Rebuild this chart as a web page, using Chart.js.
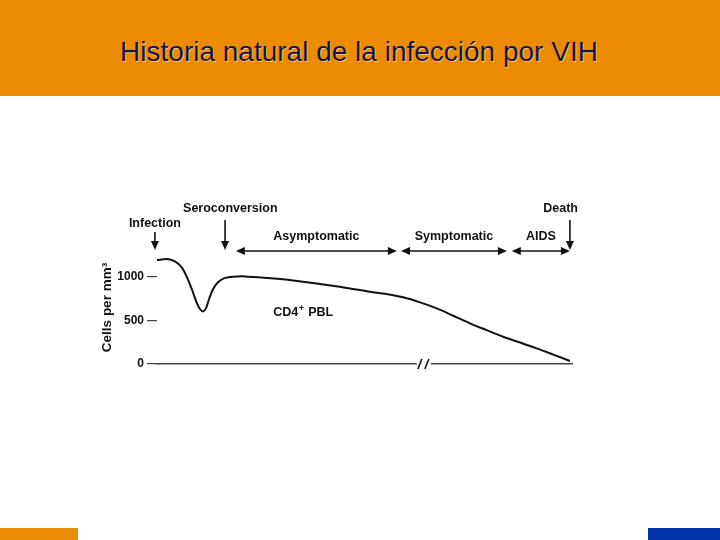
<!DOCTYPE html>
<html>
<head>
<meta charset="utf-8">
<script src="https://cdn.jsdelivr.net/npm/chart.js@4.4.0/dist/chart.umd.min.js"></script>
<style>
  html, body { margin: 0; padding: 0; background: #fff; }
  body { width: 720px; height: 540px; position: relative; overflow: hidden; font-family: 'Liberation Sans', Arial, sans-serif; }
  .header { position: absolute; left: 0; top: 0; width: 720px; height: 96px; background: #eb8c00; }
  .header h1 { margin: 0; position: absolute; left: 0; width: 718px; top: 35px; text-align: center;
    font-weight: normal; font-size: 28px; line-height: 34px; color: #1c1240; text-shadow: 1px 1px 0 #f6c77a; }
  .foot-left { position: absolute; left: 0; top: 528px; width: 78px; height: 12px; background: #eb8c00; }
  .foot-right { position: absolute; left: 648px; top: 528px; width: 72px; height: 12px; background: #0033aa; }
  .chart-box { position: absolute; left: 0; top: 0; width: 720px; height: 540px; }
</style>
</head>
<body>
<div class="header"><h1>Historia natural de la infección por VIH</h1></div>
<div class="foot-left"></div>
<div class="foot-right"></div>
<div class="chart-box"><canvas id="hiv"></canvas></div>
<script>
// time (arbitrary units 0-100) and CD4+ count
const timePoints = [0, 2.4, 4.3, 6, 7.2, 8.4, 9.6, 10.4, 11.1, 11.8, 12.5, 13.5, 14.7, 16.1, 18.3, 21.2, 26.6, 32, 38, 44, 47.6,
                    51.3, 55.3, 59.3, 63.4, 67.4, 71.4, 75.4, 79.4, 83.4, 87.5, 91.5, 95.5, 99.5];
const cd4Counts  = [1195, 1207, 1180, 1110, 1000, 860, 700, 630, 605, 640, 740, 860, 940, 985, 1003, 1008, 990, 966, 928, 888, 860,
                    831, 805, 767, 709, 640, 555, 468, 390, 314, 247, 180, 108, 35];
const yTicks = [0, 500, 1000];

// events marked with a down arrow: [label, x position]
const events = [
  ['Infection', -0.5],
  ['Seroconversion', 16.4],
  ['Death', 99.5]
];
// phases marked with a double arrow: [label, from, to]
const phases = [
  ['Asymptomatic', 19, 57.8],
  ['Symptomatic', 58.8, 84.3],
  ['AIDS', 85.5, 99.5]
];
const breakAt = 64.3;

const FAM = '"Liberation Sans", Arial, sans-serif';
const BOLD = 'bold 12.5px ' + FAM;

function arrowHead(ctx, x, y, dir) {
  ctx.beginPath();
  if (dir === 'down') {
    ctx.moveTo(x - 4, y - 9); ctx.lineTo(x, y); ctx.lineTo(x + 4, y - 9);
  } else if (dir === 'left') {
    ctx.moveTo(x + 9, y - 4); ctx.lineTo(x, y); ctx.lineTo(x + 9, y + 4);
  } else {
    ctx.moveTo(x - 9, y - 4); ctx.lineTo(x, y); ctx.lineTo(x - 9, y + 4);
  }
  ctx.closePath();
  ctx.fill();
}

const notes = {
  id: 'notes',
  afterDraw(chart) {
    const { ctx, chartArea } = chart;
    const xs = chart.scales.x;
    const ys = chart.scales.y;
    const top = chartArea.top;
    ctx.save();
    ctx.strokeStyle = '#111';
    ctx.fillStyle = '#111';
    ctx.lineWidth = 1.6;
    ctx.font = BOLD;
    ctx.textBaseline = 'middle';

    // event arrows
    events.forEach(([label, v]) => {
      const x = xs.getPixelForValue(v);
      const textY = label === 'Infection' ? top - 27 : top - 42;
      const y0 = label === 'Infection' ? top - 19 : top - 31;
      ctx.textAlign = label === 'Death' ? 'right' : (label === 'Seroconversion' ? 'left' : 'center');
      const tx = label === 'Death' ? x + 8 : (label === 'Seroconversion' ? x - 42 : x);
      ctx.fillText(label, tx, textY);
      ctx.beginPath();
      ctx.moveTo(x, y0);
      ctx.lineTo(x, top - 4);
      ctx.stroke();
      arrowHead(ctx, x, top - 1, 'down');
    });

    // phase double arrows
    phases.forEach(([label, a, b]) => {
      const x1 = xs.getPixelForValue(a);
      const x2 = xs.getPixelForValue(b);
      const y = top;
      ctx.beginPath();
      ctx.moveTo(x1 + 4, y);
      ctx.lineTo(x2 - 4, y);
      ctx.stroke();
      arrowHead(ctx, x1, y, 'left');
      arrowHead(ctx, x2, y, 'right');
      ctx.textAlign = 'center';
      ctx.fillText(label, (x1 + x2) / 2, y - 14);
    });

    // curve label
    ctx.textAlign = 'left';
    const lx = xs.getPixelForValue(28);
    const ly = ys.getPixelForValue(590);
    ctx.fillText('CD4', lx, ly);
    const w = ctx.measureText('CD4').width;
    ctx.font = 'bold 9px ' + FAM;
    ctx.fillText('+', lx + w + 0.5, ly - 4);
    ctx.font = BOLD;
    ctx.fillText('PBL', lx + w + 10, ly);

    // axis break
    const bx = xs.getPixelForValue(breakAt);
    const by = chartArea.bottom;
    ctx.fillStyle = '#fff';
    ctx.fillRect(bx - 7, by - 3, 14, 6);
    ctx.lineWidth = 1.6;
    [-4, 3].forEach(d => {
      ctx.beginPath();
      ctx.moveTo(bx + d + 2, by - 5);
      ctx.lineTo(bx + d - 2, by + 5);
      ctx.stroke();
    });
    ctx.restore();
  }
};

new Chart(document.getElementById('hiv'), {
  type: 'line',
  data: {
    datasets: [{
      data: timePoints.map((t, i) => ({ x: t, y: cd4Counts[i] })),
      borderColor: '#111',
      borderWidth: 2,
      pointRadius: 0,
      tension: 0.3,
      fill: false
    }]
  },
  options: {
    responsive: true,
    maintainAspectRatio: false,
    animation: false,
    layout: { padding: { left: 97, right: 148, top: 251, bottom: 176 } },
    plugins: { legend: { display: false }, tooltip: { enabled: false } },
    scales: {
      x: {
        type: 'linear',
        min: 0,
        max: 100,
        ticks: { display: false },
        grid: { display: false },
        border: { display: true, color: '#444', width: 1.4 },
        afterFit: (scale) => { scale.height = 0; }
      },
      y: {
        min: 0,
        max: 1300,
        afterBuildTicks: (scale) => { scale.ticks = yTicks.map(v => ({ value: v })); },
        afterFit: (scale) => { scale.width = 60; },
        ticks: {
          color: '#111',
          padding: 3,
          callback: (v) => String(v),
          font: { family: FAM, size: 12, weight: 'bold' }
        },
        grid: { drawOnChartArea: false, drawTicks: true, tickLength: 10, color: '#444', lineWidth: 1.2 },
        border: { display: false },
        title: {
          display: true,
          text: 'Cells per mm³',
          color: '#111',
          padding: { top: 2, bottom: 2 },
          font: { family: FAM, size: 13.5, weight: 'bold' }
        }
      }
    }
  },
  plugins: [notes]
});
</script>
</body>
</html>
